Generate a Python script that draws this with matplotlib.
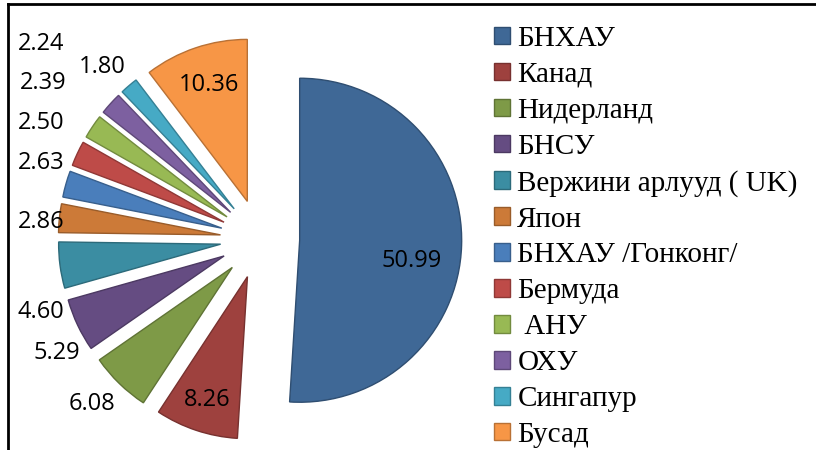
import matplotlib
matplotlib.use("Agg")
from matplotlib import pyplot as plt
from matplotlib.lines import Line2D
from matplotlib.colors import to_rgb

countries = ["БНХАУ", "Канад", "Нидерланд", "БНСУ", "Вержини арлууд ( UK)", "Япон",
             "БНХАУ /Гонконг/", "Бермуда", " АНУ", "ОХУ", "Сингапур", "Бусад"]
shares = [50.99, 8.26, 6.08, 5.29, 4.60, 2.86, 2.63, 2.50, 2.39, 2.24, 1.80, 10.36]
colors = ["#3F6896", "#9E413E", "#7E9A47", "#654C82", "#3B8DA2", "#CC7A38",
          "#4A7EBB", "#BE4B48", "#98B954", "#7D60A0", "#46AAC5", "#F79646"]

# label centres in pixels (x from left, y from top), same order as shares
label_pos = [(412, 261), (207, 400), (92, 404), (57, 353), (41, 312), (41, 222),
             (41, 163), (41, 123), (43, 83), (41, 44), (102, 67), (209, 85)]

W, H = 816, 450
fig = plt.figure(figsize=(W / 100, H / 100), dpi=100)

# pie centre at (260, 239) px, radius 162 px
r_px = 162.0
cx, cy = 260.0, 239.0
ax_w = 540
ax = fig.add_axes([0, 0, ax_w / W, 1])
edges = [tuple(c * 0.75 for c in to_rgb(col)) for col in colors]
wedges, _ = ax.pie(shares, colors=colors, startangle=90, counterclock=False,
                   explode=[0.245] * len(shares), radius=1.0,
                   wedgeprops=dict(linewidth=1.0))
for w, ec in zip(wedges, edges):
    w.set_edgecolor(ec)
ax.set_aspect("auto")
ax.set_xlim(-cx / r_px, (ax_w - cx) / r_px)
ax.set_ylim(-(H - cy) / r_px, cy / r_px)
ax.axis("off")

for val, (x, y) in zip(shares, label_pos):
    fig.text(x / W, 1 - y / H, "%.2f" % val, ha="center", va="center",
             fontsize=17, family="Open Sans", color="black")

leg = fig.legend(wedges, countries, loc="upper left",
                 bbox_to_anchor=(494 / W, 1 - 26 / H),
                 frameon=False, prop=dict(family="Liberation Serif", size=21),
                 handlelength=0.55, handleheight=0.55, handletextpad=0.25,
                 labelspacing=0.34, borderpad=0, borderaxespad=0)

# chart border (top and left edges visible)
fig.add_artist(Line2D([8 / W, 1], [1 - 4 / H, 1 - 4 / H], color="black", lw=2))
fig.add_artist(Line2D([8 / W, 8 / W], [0, 1 - 4 / H], color="black", lw=2))

plt.savefig("out.png", dpi=100)
